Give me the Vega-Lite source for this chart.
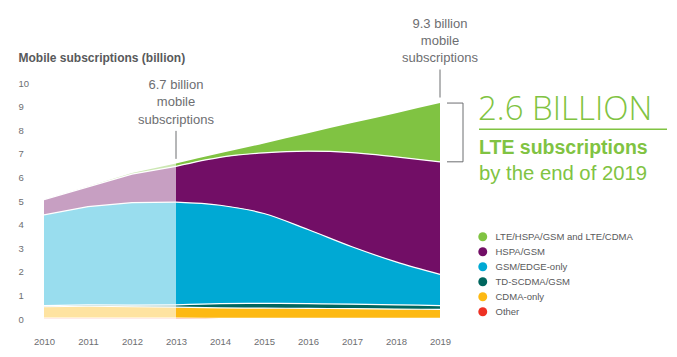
{
  "$schema": "https://vega.github.io/schema/vega-lite/v6.json",
  "width": 396,
  "height": 236,
  "autosize": {"type": "none"},
  "padding": {"left": 44, "top": 83, "right": 237, "bottom": 38},
  "background": "white",
  "config": {
    "font": "Liberation Sans",
    "view": {"stroke": null},
    "axis": {"domain": false, "ticks": false, "grid": false, "labelFont": "Liberation Sans", "labelFontSize": 9.5, "labelColor": "#6d6e71", "labelOverlap": false}
  },
  "layer": [
    {
      "data": {
        "values": [
          {"year": 2010, "tech": "Other", "value": 0.04, "period": "hist"},
          {"year": 2011, "tech": "Other", "value": 0.04, "period": "hist"},
          {"year": 2012, "tech": "Other", "value": 0.04, "period": "hist"},
          {"year": 2013, "tech": "Other", "value": 0.04, "period": "hist"},
          {"year": 2010, "tech": "CDMA-only", "value": 0.48, "period": "hist"},
          {"year": 2011, "tech": "CDMA-only", "value": 0.50, "period": "hist"},
          {"year": 2012, "tech": "CDMA-only", "value": 0.48, "period": "hist"},
          {"year": 2013, "tech": "CDMA-only", "value": 0.46, "period": "hist"},
          {"year": 2010, "tech": "TD-SCDMA/GSM", "value": 0.05, "period": "hist"},
          {"year": 2011, "tech": "TD-SCDMA/GSM", "value": 0.06, "period": "hist"},
          {"year": 2012, "tech": "TD-SCDMA/GSM", "value": 0.07, "period": "hist"},
          {"year": 2013, "tech": "TD-SCDMA/GSM", "value": 0.10, "period": "hist"},
          {"year": 2010, "tech": "GSM/EDGE-only", "value": 3.84, "period": "hist"},
          {"year": 2011, "tech": "GSM/EDGE-only", "value": 4.16, "period": "hist"},
          {"year": 2012, "tech": "GSM/EDGE-only", "value": 4.34, "period": "hist"},
          {"year": 2013, "tech": "GSM/EDGE-only", "value": 4.35, "period": "hist"},
          {"year": 2010, "tech": "HSPA/GSM", "value": 0.65, "period": "hist"},
          {"year": 2011, "tech": "HSPA/GSM", "value": 0.84, "period": "hist"},
          {"year": 2012, "tech": "HSPA/GSM", "value": 1.21, "period": "hist"},
          {"year": 2013, "tech": "HSPA/GSM", "value": 1.52, "period": "hist"},
          {"year": 2010, "tech": "LTE/HSPA/GSM and LTE/CDMA", "value": 0.0, "period": "hist"},
          {"year": 2011, "tech": "LTE/HSPA/GSM and LTE/CDMA", "value": 0.01, "period": "hist"},
          {"year": 2012, "tech": "LTE/HSPA/GSM and LTE/CDMA", "value": 0.05, "period": "hist"},
          {"year": 2013, "tech": "LTE/HSPA/GSM and LTE/CDMA", "value": 0.12, "period": "hist"},

          {"year": 2013, "tech": "Other", "value": 0.04, "period": "fcst"},
          {"year": 2014, "tech": "Other", "value": 0.03, "period": "fcst"},
          {"year": 2015, "tech": "Other", "value": 0.03, "period": "fcst"},
          {"year": 2016, "tech": "Other", "value": 0.03, "period": "fcst"},
          {"year": 2017, "tech": "Other", "value": 0.03, "period": "fcst"},
          {"year": 2018, "tech": "Other", "value": 0.03, "period": "fcst"},
          {"year": 2019, "tech": "Other", "value": 0.03, "period": "fcst"},
          {"year": 2013, "tech": "CDMA-only", "value": 0.46, "period": "fcst"},
          {"year": 2014, "tech": "CDMA-only", "value": 0.44, "period": "fcst"},
          {"year": 2015, "tech": "CDMA-only", "value": 0.43, "period": "fcst"},
          {"year": 2016, "tech": "CDMA-only", "value": 0.42, "period": "fcst"},
          {"year": 2017, "tech": "CDMA-only", "value": 0.41, "period": "fcst"},
          {"year": 2018, "tech": "CDMA-only", "value": 0.39, "period": "fcst"},
          {"year": 2019, "tech": "CDMA-only", "value": 0.38, "period": "fcst"},
          {"year": 2013, "tech": "TD-SCDMA/GSM", "value": 0.10, "period": "fcst"},
          {"year": 2014, "tech": "TD-SCDMA/GSM", "value": 0.18, "period": "fcst"},
          {"year": 2015, "tech": "TD-SCDMA/GSM", "value": 0.20, "period": "fcst"},
          {"year": 2016, "tech": "TD-SCDMA/GSM", "value": 0.20, "period": "fcst"},
          {"year": 2017, "tech": "TD-SCDMA/GSM", "value": 0.19, "period": "fcst"},
          {"year": 2018, "tech": "TD-SCDMA/GSM", "value": 0.18, "period": "fcst"},
          {"year": 2019, "tech": "TD-SCDMA/GSM", "value": 0.16, "period": "fcst"},
          {"year": 2013, "tech": "GSM/EDGE-only", "value": 4.35, "period": "fcst"},
          {"year": 2014, "tech": "GSM/EDGE-only", "value": 4.17, "period": "fcst"},
          {"year": 2015, "tech": "GSM/EDGE-only", "value": 3.81, "period": "fcst"},
          {"year": 2016, "tech": "GSM/EDGE-only", "value": 3.14, "period": "fcst"},
          {"year": 2017, "tech": "GSM/EDGE-only", "value": 2.43, "period": "fcst"},
          {"year": 2018, "tech": "GSM/EDGE-only", "value": 1.82, "period": "fcst"},
          {"year": 2019, "tech": "GSM/EDGE-only", "value": 1.32, "period": "fcst"},
          {"year": 2013, "tech": "HSPA/GSM", "value": 1.52, "period": "fcst"},
          {"year": 2014, "tech": "HSPA/GSM", "value": 2.03, "period": "fcst"},
          {"year": 2015, "tech": "HSPA/GSM", "value": 2.57, "period": "fcst"},
          {"year": 2016, "tech": "HSPA/GSM", "value": 3.32, "period": "fcst"},
          {"year": 2017, "tech": "HSPA/GSM", "value": 3.99, "period": "fcst"},
          {"year": 2018, "tech": "HSPA/GSM", "value": 4.45, "period": "fcst"},
          {"year": 2019, "tech": "HSPA/GSM", "value": 4.77, "period": "fcst"},
          {"year": 2013, "tech": "LTE/HSPA/GSM and LTE/CDMA", "value": 0.12, "period": "fcst"},
          {"year": 2014, "tech": "LTE/HSPA/GSM and LTE/CDMA", "value": 0.17, "period": "fcst"},
          {"year": 2015, "tech": "LTE/HSPA/GSM and LTE/CDMA", "value": 0.40, "period": "fcst"},
          {"year": 2016, "tech": "LTE/HSPA/GSM and LTE/CDMA", "value": 0.76, "period": "fcst"},
          {"year": 2017, "tech": "LTE/HSPA/GSM and LTE/CDMA", "value": 1.25, "period": "fcst"},
          {"year": 2018, "tech": "LTE/HSPA/GSM and LTE/CDMA", "value": 1.85, "period": "fcst"},
          {"year": 2019, "tech": "LTE/HSPA/GSM and LTE/CDMA", "value": 2.49, "period": "fcst"}
        ]
      },
      "transform": [
        {"calculate": "indexof(['Other','CDMA-only','TD-SCDMA/GSM','GSM/EDGE-only','HSPA/GSM','LTE/HSPA/GSM and LTE/CDMA'], datum.tech)", "as": "ord"},
        {"stack": "value", "groupby": ["year", "period"], "sort": [{"field": "ord", "order": "ascending"}], "as": ["v0", "v1"]}
      ],
      "layer": [
        {
          "transform": [{"filter": "datum.period === 'hist'"}],
          "mark": {"type": "area", "interpolate": "linear", "opacity": 0.4},
          "encoding": {
            "x": {"field": "year", "type": "quantitative", "scale": {"domain": [2010, 2019], "nice": false, "zero": false},
                  "axis": {"values": [2010, 2011, 2012, 2013, 2014, 2015, 2016, 2017, 2018, 2019], "format": "d", "title": null, "labelPadding": 17, "labelFlush": false}},
            "y": {"field": "v1", "type": "quantitative", "scale": {"domain": [0, 10], "nice": false},
                  "axis": {"values": [0, 1, 2, 3, 4, 5, 6, 7, 8, 9, 10], "labelOverlap": false, "labelAlign": "left", "labelBaseline": "middle", "labelPadding": 26,
                           "title": "Mobile subscriptions (billion)", "titleAngle": 0, "titleAlign": "left", "titleBaseline": "alphabetic",
                           "titleX": -26, "titleY": -22, "titleFontSize": 12, "titleFontWeight": "bold", "titleColor": "#58595b", "titleFont": "Liberation Sans"}},
            "y2": {"field": "v0"},
            "color": {"field": "tech", "type": "nominal",
                      "scale": {"domain": ["LTE/HSPA/GSM and LTE/CDMA", "HSPA/GSM", "GSM/EDGE-only", "TD-SCDMA/GSM", "CDMA-only", "Other"],
                                "range": ["#80C342", "#720E66", "#00A9D4", "#00665E", "#FDB913", "#EE3124"]},
                      "legend": {"orient": "none", "legendX": 434, "legendY": 149, "title": null, "padding": 0, "symbolType": "circle", "symbolSize": 80,
                                 "symbolStrokeWidth": 0, "symbolOpacity": 1, "rowPadding": 4, "labelOffset": 8, "labelFontSize": 9.5,
                                 "labelColor": "#58595b", "labelFont": "Liberation Sans", "labelLimit": 300}}
          }
        },
        {
          "transform": [{"filter": "datum.period === 'fcst'"}],
          "mark": {"type": "area", "interpolate": "monotone", "opacity": 1},
          "encoding": {
            "x": {"field": "year", "type": "quantitative", "scale": {"domain": [2010, 2019], "nice": false, "zero": false}},
            "y": {"field": "v1", "type": "quantitative", "scale": {"domain": [0, 10], "nice": false},
                  "axis": {"values": [0, 1, 2, 3, 4, 5, 6, 7, 8, 9, 10], "labelOverlap": false, "labelAlign": "left", "labelBaseline": "middle", "labelPadding": 26,
                           "title": "Mobile subscriptions (billion)", "titleAngle": 0, "titleAlign": "left", "titleBaseline": "alphabetic",
                           "titleX": -26, "titleY": -22, "titleFontSize": 12, "titleFontWeight": "bold", "titleColor": "#58595b", "titleFont": "Liberation Sans"}},
            "y2": {"field": "v0"},
            "color": {"field": "tech", "type": "nominal",
                      "scale": {"domain": ["LTE/HSPA/GSM and LTE/CDMA", "HSPA/GSM", "GSM/EDGE-only", "TD-SCDMA/GSM", "CDMA-only", "Other"],
                                "range": ["#80C342", "#720E66", "#00A9D4", "#00665E", "#FDB913", "#EE3124"]}}
          }
        },
        {
          "transform": [{"filter": "datum.period === 'hist' && datum.tech !== 'LTE/HSPA/GSM and LTE/CDMA'"}],
          "mark": {"type": "line", "interpolate": "linear", "color": "white", "strokeWidth": 1.2},
          "encoding": {
            "x": {"field": "year", "type": "quantitative", "scale": {"domain": [2010, 2019], "nice": false, "zero": false}},
            "y": {"field": "v1", "type": "quantitative", "scale": {"domain": [0, 10], "nice": false},
                  "axis": {"values": [0, 1, 2, 3, 4, 5, 6, 7, 8, 9, 10], "labelOverlap": false, "labelAlign": "left", "labelBaseline": "middle", "labelPadding": 26,
                           "title": "Mobile subscriptions (billion)", "titleAngle": 0, "titleAlign": "left", "titleBaseline": "alphabetic",
                           "titleX": -26, "titleY": -22, "titleFontSize": 12, "titleFontWeight": "bold", "titleColor": "#58595b", "titleFont": "Liberation Sans"}},
            "detail": {"field": "tech"}
          }
        },
        {
          "transform": [{"filter": "datum.period === 'fcst' && datum.tech !== 'LTE/HSPA/GSM and LTE/CDMA'"}],
          "mark": {"type": "line", "interpolate": "monotone", "color": "white", "strokeWidth": 1.2},
          "encoding": {
            "x": {"field": "year", "type": "quantitative", "scale": {"domain": [2010, 2019], "nice": false, "zero": false}},
            "y": {"field": "v1", "type": "quantitative", "scale": {"domain": [0, 10], "nice": false},
                  "axis": {"values": [0, 1, 2, 3, 4, 5, 6, 7, 8, 9, 10], "labelOverlap": false, "labelAlign": "left", "labelBaseline": "middle", "labelPadding": 26,
                           "title": "Mobile subscriptions (billion)", "titleAngle": 0, "titleAlign": "left", "titleBaseline": "alphabetic",
                           "titleX": -26, "titleY": -22, "titleFontSize": 12, "titleFontWeight": "bold", "titleColor": "#58595b", "titleFont": "Liberation Sans"}},
            "detail": {"field": "tech"}
          }
        },
        {
          "transform": [{"filter": "datum.period === 'fcst' && datum.year === 2019 && datum.tech === 'LTE/HSPA/GSM and LTE/CDMA'"}],
          "layer": [
            {
              "mark": {"type": "rule", "color": "#6d6e71", "strokeWidth": 1, "xOffset": 23},
              "encoding": {
                "x": {"field": "year", "type": "quantitative", "scale": {"domain": [2010, 2019], "nice": false, "zero": false}},
                "y": {"field": "v0", "type": "quantitative", "scale": {"domain": [0, 10], "nice": false},
                      "axis": {"values": [0, 1, 2, 3, 4, 5, 6, 7, 8, 9, 10], "labelOverlap": false, "labelAlign": "left", "labelBaseline": "middle", "labelPadding": 26,
                               "title": "Mobile subscriptions (billion)", "titleAngle": 0, "titleAlign": "left", "titleBaseline": "alphabetic",
                               "titleX": -26, "titleY": -22, "titleFontSize": 12, "titleFontWeight": "bold", "titleColor": "#58595b", "titleFont": "Liberation Sans"}},
                "y2": {"field": "v1"}
              }
            },
            {
              "mark": {"type": "rule", "color": "#6d6e71", "strokeWidth": 1, "xOffset": 7, "x2Offset": 23},
              "encoding": {
                "x": {"field": "year", "type": "quantitative", "scale": {"domain": [2010, 2019], "nice": false, "zero": false}},
                "x2": {"field": "year"},
                "y": {"field": "v1", "type": "quantitative", "scale": {"domain": [0, 10], "nice": false},
                      "axis": {"values": [0, 1, 2, 3, 4, 5, 6, 7, 8, 9, 10], "labelOverlap": false, "labelAlign": "left", "labelBaseline": "middle", "labelPadding": 26,
                               "title": "Mobile subscriptions (billion)", "titleAngle": 0, "titleAlign": "left", "titleBaseline": "alphabetic",
                               "titleX": -26, "titleY": -22, "titleFontSize": 12, "titleFontWeight": "bold", "titleColor": "#58595b", "titleFont": "Liberation Sans"}}
              }
            },
            {
              "mark": {"type": "rule", "color": "#6d6e71", "strokeWidth": 1, "xOffset": 7, "x2Offset": 23},
              "encoding": {
                "x": {"field": "year", "type": "quantitative", "scale": {"domain": [2010, 2019], "nice": false, "zero": false}},
                "x2": {"field": "year"},
                "y": {"field": "v0", "type": "quantitative", "scale": {"domain": [0, 10], "nice": false},
                      "axis": {"values": [0, 1, 2, 3, 4, 5, 6, 7, 8, 9, 10], "labelOverlap": false, "labelAlign": "left", "labelBaseline": "middle", "labelPadding": 26,
                               "title": "Mobile subscriptions (billion)", "titleAngle": 0, "titleAlign": "left", "titleBaseline": "alphabetic",
                               "titleX": -26, "titleY": -22, "titleFontSize": 12, "titleFontWeight": "bold", "titleColor": "#58595b", "titleFont": "Liberation Sans"}}
              }
            },
            {
              "mark": {"type": "text", "text": "2.6 BILLION", "align": "left", "baseline": "alphabetic", "dx": 38, "dy": 16.8,
                       "font": "Open Sans", "fontWeight": 300, "fontSize": 33, "color": "#80C342"},
              "encoding": {
                "x": {"field": "year", "type": "quantitative", "scale": {"domain": [2010, 2019], "nice": false, "zero": false}},
                "y": {"field": "v1", "type": "quantitative", "scale": {"domain": [0, 10], "nice": false},
                      "axis": {"values": [0, 1, 2, 3, 4, 5, 6, 7, 8, 9, 10], "labelOverlap": false, "labelAlign": "left", "labelBaseline": "middle", "labelPadding": 26,
                               "title": "Mobile subscriptions (billion)", "titleAngle": 0, "titleAlign": "left", "titleBaseline": "alphabetic",
                               "titleX": -26, "titleY": -22, "titleFontSize": 12, "titleFontWeight": "bold", "titleColor": "#58595b", "titleFont": "Liberation Sans"}}
              }
            },
            {
              "mark": {"type": "rule", "color": "#80C342", "strokeWidth": 1.5, "xOffset": 39, "x2Offset": 227, "yOffset": 26.3},
              "encoding": {
                "x": {"field": "year", "type": "quantitative", "scale": {"domain": [2010, 2019], "nice": false, "zero": false}},
                "x2": {"field": "year"},
                "y": {"field": "v1", "type": "quantitative", "scale": {"domain": [0, 10], "nice": false},
                      "axis": {"values": [0, 1, 2, 3, 4, 5, 6, 7, 8, 9, 10], "labelOverlap": false, "labelAlign": "left", "labelBaseline": "middle", "labelPadding": 26,
                               "title": "Mobile subscriptions (billion)", "titleAngle": 0, "titleAlign": "left", "titleBaseline": "alphabetic",
                               "titleX": -26, "titleY": -22, "titleFontSize": 12, "titleFontWeight": "bold", "titleColor": "#58595b", "titleFont": "Liberation Sans"}}
              }
            },
            {
              "mark": {"type": "text", "text": "LTE subscriptions", "align": "left", "baseline": "alphabetic", "dx": 39, "dy": 51.3,
                       "font": "Liberation Sans", "fontWeight": "bold", "fontSize": 19.5, "color": "#80C342"},
              "encoding": {
                "x": {"field": "year", "type": "quantitative", "scale": {"domain": [2010, 2019], "nice": false, "zero": false}},
                "y": {"field": "v1", "type": "quantitative", "scale": {"domain": [0, 10], "nice": false},
                      "axis": {"values": [0, 1, 2, 3, 4, 5, 6, 7, 8, 9, 10], "labelOverlap": false, "labelAlign": "left", "labelBaseline": "middle", "labelPadding": 26,
                               "title": "Mobile subscriptions (billion)", "titleAngle": 0, "titleAlign": "left", "titleBaseline": "alphabetic",
                               "titleX": -26, "titleY": -22, "titleFontSize": 12, "titleFontWeight": "bold", "titleColor": "#58595b", "titleFont": "Liberation Sans"}}
              }
            },
            {
              "mark": {"type": "text", "text": "by the end of 2019", "align": "left", "baseline": "alphabetic", "dx": 39, "dy": 77.3,
                       "font": "Liberation Sans", "fontSize": 20.3, "color": "#80C342"},
              "encoding": {
                "x": {"field": "year", "type": "quantitative", "scale": {"domain": [2010, 2019], "nice": false, "zero": false}},
                "y": {"field": "v1", "type": "quantitative", "scale": {"domain": [0, 10], "nice": false},
                      "axis": {"values": [0, 1, 2, 3, 4, 5, 6, 7, 8, 9, 10], "labelOverlap": false, "labelAlign": "left", "labelBaseline": "middle", "labelPadding": 26,
                               "title": "Mobile subscriptions (billion)", "titleAngle": 0, "titleAlign": "left", "titleBaseline": "alphabetic",
                               "titleX": -26, "titleY": -22, "titleFontSize": 12, "titleFontWeight": "bold", "titleColor": "#58595b", "titleFont": "Liberation Sans"}}
              }
            }
          ]
        }
      ]
    },
    {
      "data": {
        "values": [
          {"year": 2013, "total": 6.7, "label": "6.7 billion\nmobile\nsubscriptions"},
          {"year": 2019, "total": 9.3, "label": "9.3 billion\nmobile\nsubscriptions"}
        ]
      },
      "layer": [
        {
          "mark": {"type": "rule", "color": "#6d6e71", "strokeWidth": 1, "yOffset": -2, "y2Offset": -30},
          "encoding": {
            "x": {"field": "year", "type": "quantitative", "scale": {"domain": [2010, 2019], "nice": false, "zero": false}},
            "y": {"field": "total", "type": "quantitative", "scale": {"domain": [0, 10], "nice": false},
                  "axis": {"values": [0, 1, 2, 3, 4, 5, 6, 7, 8, 9, 10], "labelOverlap": false, "labelAlign": "left", "labelBaseline": "middle", "labelPadding": 26,
                           "title": "Mobile subscriptions (billion)", "titleAngle": 0, "titleAlign": "left", "titleBaseline": "alphabetic",
                           "titleX": -26, "titleY": -22, "titleFontSize": 12, "titleFontWeight": "bold", "titleColor": "#58595b", "titleFont": "Liberation Sans"}},
            "y2": {"field": "total"}
          }
        },
        {
          "mark": {"type": "text", "align": "center", "baseline": "alphabetic", "dy": -72, "lineBreak": "\n", "lineHeight": 17.4,
                   "font": "Liberation Sans", "fontSize": 13, "color": "#6d6e71"},
          "encoding": {
            "x": {"field": "year", "type": "quantitative", "scale": {"domain": [2010, 2019], "nice": false, "zero": false}},
            "y": {"field": "total", "type": "quantitative", "scale": {"domain": [0, 10], "nice": false},
                  "axis": {"values": [0, 1, 2, 3, 4, 5, 6, 7, 8, 9, 10], "labelOverlap": false, "labelAlign": "left", "labelBaseline": "middle", "labelPadding": 26,
                           "title": "Mobile subscriptions (billion)", "titleAngle": 0, "titleAlign": "left", "titleBaseline": "alphabetic",
                           "titleX": -26, "titleY": -22, "titleFontSize": 12, "titleFontWeight": "bold", "titleColor": "#58595b", "titleFont": "Liberation Sans"}},
            "text": {"field": "label"}
          }
        }
      ]
    }
  ]
}
